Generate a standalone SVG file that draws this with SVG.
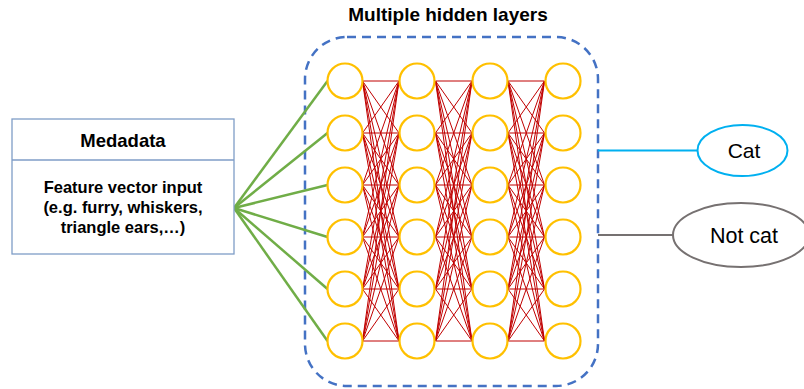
<svg xmlns="http://www.w3.org/2000/svg" width="804" height="389" viewBox="0 0 804 389">
<style>
text{font-family:"Liberation Sans",Arial,sans-serif;fill:#000}
.b{font-weight:bold}
.n{fill:#fff;stroke:#FFC000;stroke-width:2.2}
.r line{stroke:#C00000;stroke-width:1}
.g line{stroke:#70AD47;stroke-width:2.5}
</style>
<rect width="804" height="389" fill="#fff"/>
<text class="b" x="448" y="21" font-size="19" text-anchor="middle">Multiple hidden layers</text>
<g id="hidden-box"><rect x="305" y="37" width="293" height="349" rx="42" fill="none" stroke="#4472C4" stroke-width="2.5" stroke-dasharray="9,6"/></g>
<g id="connectors">
<g class="g">
<line x1="234" y1="208" x2="327.5" y2="81"/><line x1="234" y1="208" x2="327.5" y2="133"/><line x1="234" y1="208" x2="327.5" y2="185"/><line x1="234" y1="208" x2="327.5" y2="237"/><line x1="234" y1="208" x2="327.5" y2="289"/><line x1="234" y1="208" x2="327.5" y2="341"/>
</g>
<g class="r" id="r1">
<line x1="362.5" y1="81" x2="399" y2="81"/><line x1="362.5" y1="81" x2="399" y2="133"/><line x1="362.5" y1="81" x2="399" y2="185"/><line x1="362.5" y1="81" x2="399" y2="237"/><line x1="362.5" y1="81" x2="399" y2="289"/><line x1="362.5" y1="81" x2="399" y2="341"/>
<line x1="362.5" y1="133" x2="399" y2="81"/><line x1="362.5" y1="133" x2="399" y2="133"/><line x1="362.5" y1="133" x2="399" y2="185"/><line x1="362.5" y1="133" x2="399" y2="237"/><line x1="362.5" y1="133" x2="399" y2="289"/><line x1="362.5" y1="133" x2="399" y2="341"/>
<line x1="362.5" y1="185" x2="399" y2="81"/><line x1="362.5" y1="185" x2="399" y2="133"/><line x1="362.5" y1="185" x2="399" y2="185"/><line x1="362.5" y1="185" x2="399" y2="237"/><line x1="362.5" y1="185" x2="399" y2="289"/><line x1="362.5" y1="185" x2="399" y2="341"/>
<line x1="362.5" y1="237" x2="399" y2="81"/><line x1="362.5" y1="237" x2="399" y2="133"/><line x1="362.5" y1="237" x2="399" y2="185"/><line x1="362.5" y1="237" x2="399" y2="237"/><line x1="362.5" y1="237" x2="399" y2="289"/><line x1="362.5" y1="237" x2="399" y2="341"/>
<line x1="362.5" y1="289" x2="399" y2="81"/><line x1="362.5" y1="289" x2="399" y2="133"/><line x1="362.5" y1="289" x2="399" y2="185"/><line x1="362.5" y1="289" x2="399" y2="237"/><line x1="362.5" y1="289" x2="399" y2="289"/><line x1="362.5" y1="289" x2="399" y2="341"/>
<line x1="362.5" y1="341" x2="399" y2="81"/><line x1="362.5" y1="341" x2="399" y2="133"/><line x1="362.5" y1="341" x2="399" y2="185"/><line x1="362.5" y1="341" x2="399" y2="237"/><line x1="362.5" y1="341" x2="399" y2="289"/><line x1="362.5" y1="341" x2="399" y2="341"/>
</g>
<g class="r" id="r2" transform="translate(73,0)">
<line x1="362.5" y1="81" x2="399" y2="81"/><line x1="362.5" y1="81" x2="399" y2="133"/><line x1="362.5" y1="81" x2="399" y2="185"/><line x1="362.5" y1="81" x2="399" y2="237"/><line x1="362.5" y1="81" x2="399" y2="289"/><line x1="362.5" y1="81" x2="399" y2="341"/>
<line x1="362.5" y1="133" x2="399" y2="81"/><line x1="362.5" y1="133" x2="399" y2="133"/><line x1="362.5" y1="133" x2="399" y2="185"/><line x1="362.5" y1="133" x2="399" y2="237"/><line x1="362.5" y1="133" x2="399" y2="289"/><line x1="362.5" y1="133" x2="399" y2="341"/>
<line x1="362.5" y1="185" x2="399" y2="81"/><line x1="362.5" y1="185" x2="399" y2="133"/><line x1="362.5" y1="185" x2="399" y2="185"/><line x1="362.5" y1="185" x2="399" y2="237"/><line x1="362.5" y1="185" x2="399" y2="289"/><line x1="362.5" y1="185" x2="399" y2="341"/>
<line x1="362.5" y1="237" x2="399" y2="81"/><line x1="362.5" y1="237" x2="399" y2="133"/><line x1="362.5" y1="237" x2="399" y2="185"/><line x1="362.5" y1="237" x2="399" y2="237"/><line x1="362.5" y1="237" x2="399" y2="289"/><line x1="362.5" y1="237" x2="399" y2="341"/>
<line x1="362.5" y1="289" x2="399" y2="81"/><line x1="362.5" y1="289" x2="399" y2="133"/><line x1="362.5" y1="289" x2="399" y2="185"/><line x1="362.5" y1="289" x2="399" y2="237"/><line x1="362.5" y1="289" x2="399" y2="289"/><line x1="362.5" y1="289" x2="399" y2="341"/>
<line x1="362.5" y1="341" x2="399" y2="81"/><line x1="362.5" y1="341" x2="399" y2="133"/><line x1="362.5" y1="341" x2="399" y2="185"/><line x1="362.5" y1="341" x2="399" y2="237"/><line x1="362.5" y1="341" x2="399" y2="289"/><line x1="362.5" y1="341" x2="399" y2="341"/>
</g>
<g class="r" id="r3" transform="translate(145.5,0)">
<line x1="362.5" y1="81" x2="399" y2="81"/><line x1="362.5" y1="81" x2="399" y2="133"/><line x1="362.5" y1="81" x2="399" y2="185"/><line x1="362.5" y1="81" x2="399" y2="237"/><line x1="362.5" y1="81" x2="399" y2="289"/><line x1="362.5" y1="81" x2="399" y2="341"/>
<line x1="362.5" y1="133" x2="399" y2="81"/><line x1="362.5" y1="133" x2="399" y2="133"/><line x1="362.5" y1="133" x2="399" y2="185"/><line x1="362.5" y1="133" x2="399" y2="237"/><line x1="362.5" y1="133" x2="399" y2="289"/><line x1="362.5" y1="133" x2="399" y2="341"/>
<line x1="362.5" y1="185" x2="399" y2="81"/><line x1="362.5" y1="185" x2="399" y2="133"/><line x1="362.5" y1="185" x2="399" y2="185"/><line x1="362.5" y1="185" x2="399" y2="237"/><line x1="362.5" y1="185" x2="399" y2="289"/><line x1="362.5" y1="185" x2="399" y2="341"/>
<line x1="362.5" y1="237" x2="399" y2="81"/><line x1="362.5" y1="237" x2="399" y2="133"/><line x1="362.5" y1="237" x2="399" y2="185"/><line x1="362.5" y1="237" x2="399" y2="237"/><line x1="362.5" y1="237" x2="399" y2="289"/><line x1="362.5" y1="237" x2="399" y2="341"/>
<line x1="362.5" y1="289" x2="399" y2="81"/><line x1="362.5" y1="289" x2="399" y2="133"/><line x1="362.5" y1="289" x2="399" y2="185"/><line x1="362.5" y1="289" x2="399" y2="237"/><line x1="362.5" y1="289" x2="399" y2="289"/><line x1="362.5" y1="289" x2="399" y2="341"/>
<line x1="362.5" y1="341" x2="399" y2="81"/><line x1="362.5" y1="341" x2="399" y2="133"/><line x1="362.5" y1="341" x2="399" y2="185"/><line x1="362.5" y1="341" x2="399" y2="237"/><line x1="362.5" y1="341" x2="399" y2="289"/><line x1="362.5" y1="341" x2="399" y2="341"/>
</g>
<line x1="598" y1="150.5" x2="698" y2="150.5" stroke="#00B0F0" stroke-width="2"/>
<line x1="598" y1="235" x2="673" y2="235" stroke="#767171" stroke-width="2"/>
</g>
<g id="medadata">
<rect x="12" y="119" width="222" height="135" fill="#fff" stroke="#7F9DC7" stroke-width="1.3"/>
<line x1="12" y1="160" x2="234" y2="160" stroke="#7F9DC7" stroke-width="1.3"/>
<text class="b" x="123" y="147" font-size="18.5" text-anchor="middle">Medadata</text>
<text class="b" x="123" y="193" font-size="16.5" text-anchor="middle">Feature vector input</text>
<text class="b" x="123" y="213" font-size="16.5" text-anchor="middle">(e.g. furry, whiskers,</text>
<text class="b" x="123" y="233" font-size="16.5" text-anchor="middle">triangle ears,…)</text>
</g>
<g id="layer1"><circle class="n" cx="345" cy="81" r="17.5"/><circle class="n" cx="345" cy="133" r="17.5"/><circle class="n" cx="345" cy="185" r="17.5"/><circle class="n" cx="345" cy="237" r="17.5"/><circle class="n" cx="345" cy="289" r="17.5"/><circle class="n" cx="345" cy="341" r="17.5"/></g>
<g id="layer2"><circle class="n" cx="417" cy="81" r="17.5"/><circle class="n" cx="417" cy="133" r="17.5"/><circle class="n" cx="417" cy="185" r="17.5"/><circle class="n" cx="417" cy="237" r="17.5"/><circle class="n" cx="417" cy="289" r="17.5"/><circle class="n" cx="417" cy="341" r="17.5"/></g>
<g id="layer3"><circle class="n" cx="490" cy="81" r="17.5"/><circle class="n" cx="490" cy="133" r="17.5"/><circle class="n" cx="490" cy="185" r="17.5"/><circle class="n" cx="490" cy="237" r="17.5"/><circle class="n" cx="490" cy="289" r="17.5"/><circle class="n" cx="490" cy="341" r="17.5"/></g>
<g id="layer4"><circle class="n" cx="563" cy="81" r="17.5"/><circle class="n" cx="563" cy="133" r="17.5"/><circle class="n" cx="563" cy="185" r="17.5"/><circle class="n" cx="563" cy="237" r="17.5"/><circle class="n" cx="563" cy="289" r="17.5"/><circle class="n" cx="563" cy="341" r="17.5"/></g>
<g id="cat"><ellipse cx="742.5" cy="150.5" rx="45" ry="25.5" fill="#fff" stroke="#00B0F0" stroke-width="2"/><text x="744" y="158" font-size="21" text-anchor="middle">Cat</text></g>
<g id="notcat"><ellipse cx="741" cy="235" rx="68" ry="32" fill="#fff" stroke="#767171" stroke-width="2"/><text x="744" y="242.5" font-size="21.5" text-anchor="middle">Not cat</text></g>
</svg>
